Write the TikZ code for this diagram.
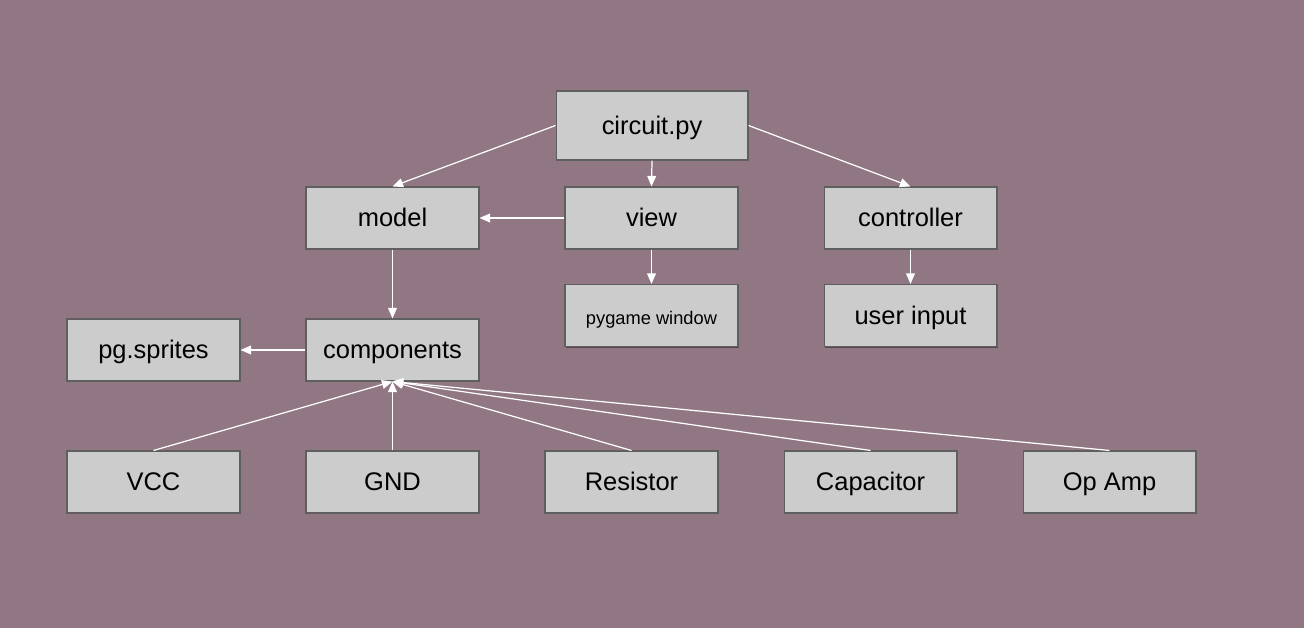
\documentclass[tikz,border=0pt]{standalone}
\usepackage{fontspec}
\setmainfont{Liberation Sans}
\usepackage{tikz}
\usetikzlibrary{arrows.meta, positioning, shadows}
\usepackage{xcolor}
\definecolor{canvas}{HTML}{917684}
\definecolor{boxfill}{HTML}{CCCCCC}
\definecolor{boxline}{HTML}{5F5F5F}
\tikzset{
  block/.style={rectangle, draw=boxline, line width=0.6pt, fill=boxfill,
                minimum width=3.46cm, minimum height=1.24cm, align=center,
                text height=2.1ex, text depth=0.2ex,
                font=\fontsize{14.5}{17}\selectfont, text=black,
                drop shadow={shadow xshift=0.6pt, shadow yshift=-0.8pt,
                             fill=black, opacity=0.4}},
  blockS/.style={block, font=\fontsize{10.4}{12}\selectfont},
  arrow/.style={-{Triangle[length=6pt, width=5pt]}, draw=white, line width=0.7pt},
}
\begin{document}
\begin{tikzpicture}[x=0.02cm, y=-0.02cm]
  %% Background
  \fill[canvas] (0,0) rectangle (1304,628);
  \useasboundingbox (0,0) rectangle (1304,628);

  %% Top level
  \node[block, minimum width=3.84cm, minimum height=1.38cm] (circuit) at (652,125.5) {circuit.py};

  %% MVC
  \node[block] (model) at (392.5,218) {model};
  \node[block] (view) at (651.5,218) {view};
  \node[block] (controller) at (910.5,218) {controller};
  \node[blockS] (window) at (651.5,315.5) {pygame window};
  \node[block] (input) at (910.5,315.5) {user input};

  %% Components
  \node[block] (sprites) at (153.5,350) {pg.sprites};
  \node[block] (components) at (392.5,350) {components};

  %% Parts
  \node[block] (vcc) at (153.5,482) {VCC};
  \node[block] (gnd) at (392.5,482) {GND};
  \node[block] (resistor) at (631.5,482) {Resistor};
  \node[block] (capacitor) at (870.5,482) {Capacitor};
  \node[block] (opamp) at (1109.5,482) {Op Amp};

  %% Arrows
  \draw[arrow] (circuit.west) -- (model.north);
  \draw[arrow] (circuit.south) -- (view.north);
  \draw[arrow] (circuit.east) -- (controller.north);
  \draw[arrow] (view.west) -- (model.east);
  \draw[arrow] (view.south) -- (window.north);
  \draw[arrow] (controller.south) -- (input.north);
  \draw[arrow] (model.south) -- (components.north);
  \draw[arrow] (components.west) -- (sprites.east);
  \foreach \part in {vcc, gnd, resistor, capacitor, opamp}{
    \draw[arrow] (\part.north) -- (components.south);
  }
\end{tikzpicture}
\end{document}
